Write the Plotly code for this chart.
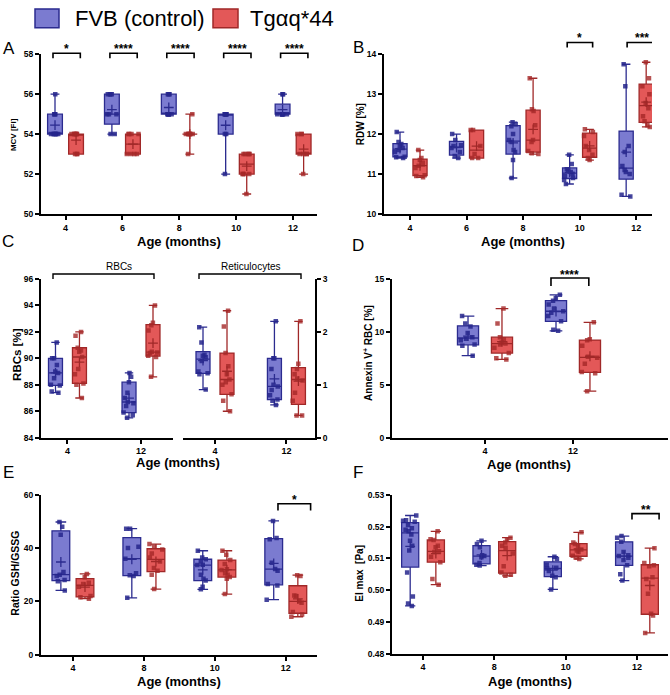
import numpy as np
import plotly.graph_objects as go

W, H = 670, 695

# ---------------- data ----------------
mcv_ages = ['4', '6', '8', '10', '12']
mcv_fvb = [
    [54, 54, 54, 54, 54, 54, 54, 55, 55, 55, 56],
    [54, 54, 55, 55, 55, 56, 56, 56, 56],
    [55, 55, 55, 55, 55, 55, 56, 56, 56],
    [52, 54, 54, 55, 55, 55, 55, 55, 55],
    [55, 55, 55, 55, 55, 55, 55, 56, 56],
]
mcv_tg = [
    [53, 53, 53, 54, 54, 54, 54, 54, 54, 54],
    [53, 53, 53, 53, 54, 54, 54, 54],
    [53, 54, 54, 54, 54, 54, 54, 54, 55],
    [51, 52, 52, 52, 52, 53, 53, 53, 53, 53],
    [52, 53, 53, 53, 53, 54, 54, 54],
]

rdw_ages = ['4', '6', '8', '10', '12']
rdw_fvb = [
    [11.40, 11.42, 11.43, 11.55, 11.60, 11.65, 11.70, 11.75, 11.80, 12.05],
    [11.40, 11.45, 11.55, 11.65, 11.70, 11.72, 11.85, 12.00],
    [10.90, 11.35, 11.55, 11.60, 11.80, 11.85, 12.00, 12.20, 12.25, 12.30],
    [10.75, 10.85, 10.90, 10.95, 11.00, 11.05, 11.08, 11.12, 11.25, 11.48],
    [10.44, 10.48, 11.00, 11.05, 11.10, 11.20, 11.55, 11.70, 13.20, 13.75],
]
rdw_tg = [
    [10.92, 10.95, 10.97, 11.15, 11.21, 11.28, 11.35, 11.40, 11.60],
    [11.40, 11.40, 11.50, 11.70, 12.10, 12.10],
    [11.50, 11.52, 11.58, 11.80, 11.85, 12.22, 12.58, 12.62, 13.40],
    [11.35, 11.40, 11.48, 11.60, 11.70, 11.95, 12.05, 12.12],
    [12.18, 12.22, 12.32, 12.45, 12.65, 12.78, 13.00, 13.20, 13.40, 13.80],
]

c_ages = ['4', '12']
rbc_fvb = [
    [87.4, 87.5, 87.95, 88.0, 88.5, 88.9, 89.0, 89.5, 90.0, 90.0, 91.2],
    [85.5, 85.7, 85.9, 86.4, 86.6, 86.7, 87.0, 87.4, 88.2, 88.6, 88.9],
]
rbc_tg = [
    [87.0, 88.0, 88.1, 88.8, 89.2, 90.1, 90.5, 90.6, 90.8, 91.7, 92.0],
    [88.6, 90.1, 90.2, 90.4, 90.45, 90.5, 92.1, 92.5, 92.7, 94.0],
]
ret_fvb = [
    [0.91, 1.20, 1.22, 1.25, 1.45, 1.52, 1.55, 1.57, 1.80, 2.09],
    [0.62, 0.70, 0.72, 0.80, 0.90, 0.97, 1.00, 1.30, 1.50, 1.50, 2.20],
]
ret_tg = [
    [0.50, 0.70, 0.82, 1.00, 1.05, 1.10, 1.20, 1.35, 1.60, 2.10, 2.40],
    [0.42, 0.42, 0.70, 0.85, 1.08, 1.12, 1.20, 1.30, 1.40, 2.20],
]

anx_ages = ['4', '12']
anx_fvb = [
    [7.75, 8.70, 8.80, 9.20, 9.35, 9.50, 9.90, 10.50, 10.80, 11.50],
    [10.1, 10.2, 11.0, 11.5, 11.8, 11.95, 12.2, 12.6, 12.95, 13.2, 13.5],
]
anx_tg = [
    [7.4, 7.5, 8.0, 8.5, 8.8, 8.9, 9.0, 9.3, 9.5, 10.8, 12.2],
    [4.4, 6.1, 6.2, 7.0, 7.55, 7.65, 8.7, 9.2, 9.3, 10.9],
]

gsh_ages = ['4', '8', '10', '12']
gsh_fvb = [
    [24.1, 27.5, 28.0, 29.5, 30.0, 31.0, 45.0, 48.0, 49.8],
    [21.3, 29.5, 29.8, 30.5, 36.0, 40.0, 40.5, 47.3, 47.3],
    [24.5, 25.5, 27.8, 28.5, 30.0, 33.6, 33.7, 35.0, 35.8, 36.5, 39.0],
    [20.6, 25.9, 26.5, 31.5, 32.1, 34.5, 43.3, 43.8, 50.2],
]
gsh_tg = [
    [21.0, 21.5, 22.0, 25.5, 26.5, 27.0, 29.0, 30.3],
    [24.6, 30.0, 31.5, 32.5, 35.0, 36.5, 38.0, 39.5, 40.5, 41.5],
    [22.7, 28.5, 29.1, 30.0, 30.5, 31.8, 32.0, 34.0, 35.5, 37.5, 39.0],
    [14.2, 15.0, 16.0, 19.5, 20.0, 22.0, 22.2, 29.5, 29.8],
]

ei_ages = ['4', '8', '10', '12']
ei_fvb = [
    [0.495, 0.4958, 0.498, 0.5055, 0.5125, 0.514, 0.5155, 0.5175, 0.5185, 0.519,
     0.5195, 0.5205, 0.5215, 0.5218, 0.522, 0.5235],
    [0.5077, 0.508, 0.5085, 0.5103, 0.5107, 0.511, 0.5135, 0.5145, 0.5155],
    [0.5002, 0.504, 0.5045, 0.506, 0.5068, 0.507, 0.508, 0.5098, 0.5105],
    [0.503, 0.505, 0.5078, 0.5095, 0.5102, 0.5107, 0.511, 0.512, 0.5152, 0.5165, 0.517],
]
ei_tg = [
    [0.5017, 0.5035, 0.5088, 0.5105, 0.512, 0.5122, 0.5135, 0.514, 0.5158, 0.516, 0.5185],
    [0.5045, 0.5048, 0.5055, 0.5075, 0.5115, 0.5133, 0.514, 0.515, 0.516, 0.5165],
    [0.5098, 0.5102, 0.5108, 0.512, 0.5125, 0.5128, 0.514, 0.5145, 0.515, 0.5182],
    [0.4865, 0.492, 0.4925, 0.4988, 0.5035, 0.504, 0.5075, 0.5078, 0.5085, 0.5132],
]

legend_labels = ['FVB (control)', 'Tg\u03b1q*44']

# ---------------- styling ----------------
FONT = 'Liberation Sans, Arial, sans-serif'
BLUE_FILL = 'rgba(100,100,200,0.85)'
BLUE_LINE = '#2B2B8F'
BLUE_PT = 'rgba(38,38,140,0.85)'
RED_FILL = 'rgba(224,70,70,0.9)'
RED_LINE = '#A02828'
RED_PT = 'rgba(165,40,40,0.8)'


def px(x):
    return x / W


def py(y):
    return 1 - y / H


fig = go.Figure()


def stats(v):
    a = np.asarray(v, dtype=float)
    return (a.min(), np.percentile(a, 25, method='weibull'), np.median(a),
            np.percentile(a, 75, method='weibull'), a.max(), a.mean())


def draw_series(xref, yref, series, sign, off, bw, fill, line, pt):
    pos = [i + sign * off for i in range(len(series))]
    st = [stats(v) for v in series]
    fig.add_trace(go.Box(
        x=pos, lowerfence=[s[0] for s in st], q1=[s[1] for s in st],
        median=[s[2] for s in st], q3=[s[3] for s in st],
        upperfence=[s[4] for s in st], orientation='v', width=bw,
        fillcolor=fill, line=dict(color=line, width=1.3), whiskerwidth=0.6,
        boxpoints=False, xaxis=xref, yaxis=yref, showlegend=False, hoverinfo='skip'))
    xs = [p for p, v in zip(pos, series) for _ in v]
    ys = [y for v in series for y in v]
    fig.add_trace(go.Box(
        x=xs, y=ys, orientation='v', width=bw, boxpoints='all', jitter=0.85,
        pointpos=0, fillcolor='rgba(0,0,0,0)',
        line=dict(width=0, color='rgba(0,0,0,0)'),
        marker=dict(symbol='square', size=4.5, color=pt),
        xaxis=xref, yaxis=yref, showlegend=False, hoverinfo='skip'))
    fig.add_trace(go.Scatter(
        x=pos, y=[s[5] for s in st], mode='markers',
        marker=dict(symbol='cross-thin', size=7, line=dict(width=1.3, color=line)),
        xaxis=xref, yaxis=yref, showlegend=False, hoverinfo='skip'))


def lay_key(ref):
    return ref[0] + 'axis' + ref[1:]


def setup_axes(xref, yref, xdom, ydom, xr, cats, yr, dtick, yside='left',
               tickformat=None):
    fig.layout[lay_key(xref)] = dict(
        domain=[px(xdom[0]), px(xdom[1])], range=list(xr), anchor=yref,
        tickvals=list(range(len(cats))), ticktext=cats,
        showline=True, linecolor='black', linewidth=2, ticks='outside',
        ticklen=4, tickwidth=1.5, tickcolor='black', showgrid=False,
        zeroline=False, fixedrange=True,
        tickfont=dict(family=FONT, size=9, color='black', weight='bold'))
    yd = dict(
        domain=[py(ydom[1]), py(ydom[0])], range=list(yr), anchor=xref,
        side=yside, dtick=dtick, tick0=yr[0],
        showline=True, linecolor='black', linewidth=2, ticks='outside',
        ticklen=4, tickwidth=1.5, tickcolor='black', showgrid=False,
        zeroline=False, fixedrange=True,
        tickfont=dict(family=FONT, size=8.5, color='black', weight='bold'))
    if tickformat:
        yd['tickformat'] = tickformat
    fig.layout[lay_key(yref)] = yd


panels = [
    # xref, yref, xdom, ydom, xrange, cats, yrange, dtick, fvb, tg, off, bw, side, fmt
    ('x', 'y', (41, 317), (50, 212), (-0.431, 4.42), mcv_ages, (50, 58), 2,
     mcv_fvb, mcv_tg, 0.185, 0.26, 'left', None),
    ('x2', 'y2', (384, 652), (50, 212), (-0.46, 4.28), rdw_ages, (10, 14), 1,
     rdw_fvb, rdw_tg, 0.177, 0.25, 'left', None),
    ('x3', 'y3', (41, 173), (278, 439), (-0.36, 1.435), c_ages, (84, 96), 2,
     rbc_fvb, rbc_tg, 0.163, 0.19, 'left', None),
    ('x4', 'y4', (183, 315), (278, 439), (-0.448, 1.40), c_ages, (0, 3), 1,
     ret_fvb, ret_tg, 0.168, 0.196, 'right', None),
    ('x5', 'y5', (392, 668), (278, 439), (-1.057, 2.08), anx_ages, (0, 15), 5,
     anx_fvb, anx_tg, 0.193, 0.24, 'left', None),
    ('x6', 'y6', (41, 317), (497, 659), (-0.45, 3.44), gsh_ages, (0, 60), 20,
     gsh_fvb, gsh_tg, 0.17, 0.25, 'left', None),
    ('x7', 'y7', (392, 668), (497, 658), (-0.435, 3.435), ei_ages, (0.48, 0.53), 0.01,
     ei_fvb, ei_tg, 0.18, 0.24, 'left', '.2f'),
]

for (xref, yref, xdom, ydom, xr, cats, yr, dt, fvb, tg, off, bw, side, fmt) in panels:
    setup_axes(xref, yref, xdom, ydom, xr, cats, yr, dt, side, fmt)
    draw_series(xref, yref, fvb, -1, off, bw, BLUE_FILL, BLUE_LINE, BLUE_PT)
    draw_series(xref, yref, tg, +1, off, bw, RED_FILL, RED_LINE, RED_PT)


# ---------------- significance brackets ----------------
def bracket(xref, x0, x1, ytop, yleg, stars, ystar, size=12):
    fig.add_shape(type='path', xref=xref, yref='paper',
                  path=f'M {x0},{py(yleg)} L {x0},{py(ytop)} L {x1},{py(ytop)} L {x1},{py(yleg)}',
                  line=dict(color='black', width=1.6))
    fig.add_annotation(xref=xref, yref='paper', x=(x0 + x1) / 2, y=py(ystar),
                       text=f'<b>{stars}</b>', showarrow=False, yanchor='middle',
                       font=dict(family=FONT, size=size, color='black'))


for i, s in enumerate(['*', '****', '****', '****', '****']):
    bracket('x', i - 0.22, i + 0.26, 49, 54, s, 45)
bracket('x2', 3 - 0.22, 3 + 0.23, 38, 43, '*', 33)
bracket('x2', 4 - 0.16, 4 + 0.37, 38, 43, '***', 33)
bracket('x5', 1 - 0.25, 1 + 0.18, 277, 285, '****', 274)
bracket('x6', 3 - 0.11, 3 + 0.35, 506, 513, '*', 502)
bracket('x7', 3 - 0.07, 3 + 0.31, 516, 522, '**', 512)

# C group brackets (RBCs / Reticulocytes)
for x0, x1, label in [(53, 154, 'RBCs'), (199, 301, 'Reticulocytes')]:
    fig.add_shape(type='path', xref='paper', yref='paper',
                  path=f'M {px(x0)},{py(278)} L {px(x0)},{py(273)} L {px(x1)},{py(273)} L {px(x1)},{py(278)}',
                  line=dict(color='black', width=1.4))
    fig.add_annotation(xref='paper', yref='paper', x=px((x0 + x1) / 2), y=py(265),
                       text=label, showarrow=False, yanchor='middle',
                       font=dict(family=FONT, size=10, color='black'))

# ---------------- axis titles / panel letters ----------------
ytitles = [
    ('MCV [Fl]', 13, 132, 8),
    ('RDW [%]', 360, 121, 10),
    ('RBCs [%]', 17, 355, 11.5),
    ('Annexin V<sup>+</sup> RBC [%]', 368, 353, 10),
    ('Ratio GSH/GSSG', 15, 577, 10.5),
    ('EI max\u00a0 [Pa]', 360, 577, 10),
]
for t, x, y, s in ytitles:
    fig.add_annotation(xref='paper', yref='paper', x=px(x), y=py(y), text=f'<b>{t}</b>',
                       textangle=-90, showarrow=False, xanchor='center', yanchor='middle',
                       font=dict(family=FONT, size=s, color='black'))

xtitles = [(179, 240), (523, 240), (178, 464), (529, 466), (179, 686), (530, 686)]
for x, y in xtitles:
    fig.add_annotation(xref='paper', yref='paper', x=px(x), y=py(y),
                       text='<b>Age (months)</b>', showarrow=False,
                       xanchor='center', yanchor='middle',
                       font=dict(family=FONT, size=13, color='black'))

letters = [('A', 9, 44), ('B', 358, 43), ('C', 8, 240), ('D', 358, 244),
           ('E', 8, 474), ('F', 358, 474)]
for t, x, y in letters:
    fig.add_annotation(xref='paper', yref='paper', x=px(x), y=py(y), text=t,
                       showarrow=False, xanchor='center', yanchor='middle',
                       font=dict(family=FONT, size=17, color='black'))

# ---------------- legend ----------------
for (x0, x1), fill, line, label, tx in [((35, 59), BLUE_FILL, BLUE_LINE, legend_labels[0], 73),
                                        ((213, 238), RED_FILL, RED_LINE, legend_labels[1], 248)]:
    fig.add_shape(type='rect', xref='paper', yref='paper', x0=px(x0), x1=px(x1),
                  y0=py(23), y1=py(4), fillcolor=fill, line=dict(color=line, width=1.5))
    fig.add_annotation(xref='paper', yref='paper', x=px(tx), y=py(14), text=label,
                       showarrow=False, xanchor='left', yanchor='middle',
                       font=dict(family=FONT, size=22, color='black'))

fig.update_layout(
    width=W, height=H, margin=dict(l=0, r=0, t=0, b=0),
    paper_bgcolor='white', plot_bgcolor='white', showlegend=False,
    boxmode='overlay', font=dict(family=FONT, color='black'),
)

fig.write_html('out.html', config={'displayModeBar': False},
               post_script="document.body.style.margin='0';document.body.style.overflow='hidden';")
